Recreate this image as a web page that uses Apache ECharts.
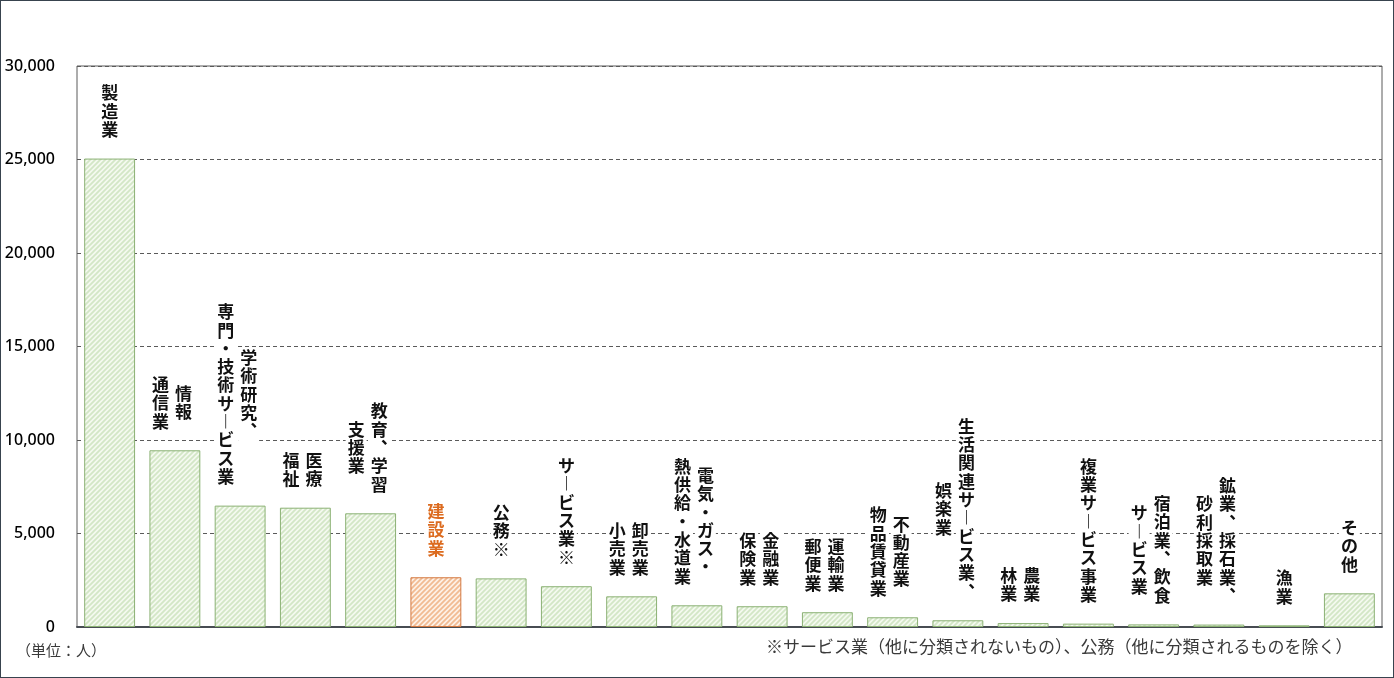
<!DOCTYPE html>
<html>
<head>
<meta charset="utf-8">
<script src="https://cdn.jsdelivr.net/npm/echarts@6/dist/echarts.min.js"></script>
<style>
  html, body { margin: 0; padding: 0; background: #fff; }
  #wrap { position: relative; width: 1394px; height: 678px; }
  #chart { position: absolute; left: 0; top: 0; width: 1394px; height: 678px; }
  #frame { position: absolute; left: 0; top: 0; width: 1394px; height: 678px; box-sizing: border-box; border: 1px solid #38434e; pointer-events: none; }
</style>
</head>
<body>
<div id="wrap"><div id="chart"></div><div id="frame"></div></div>
<script>
// ---- data ----
const categories = [
  '製造業', '情報通信業', '学術研究、専門・技術サービス業', '医療、福祉', '教育、学習支援業',
  '建設業', '公務※', 'サービス業※', '卸売業、小売業', '電気・ガス・熱供給・水道業',
  '金融業、保険業', '運輸業、郵便業', '不動産業、物品賃貸業', '生活関連サービス業、娯楽業', '農業、林業',
  '複業サービス事業', '宿泊業、飲食サービス業', '鉱業、採石業、砂利採取業', '漁業', 'その他'
];
// label columns, read right-to-left (vertical writing)
const labelColumns = [
  ['製造業'], ['情報', '通信業'], ['学術研究、', '専門・技術サービス業'], ['医療', '福祉'], ['教育、学習', '支援業'],
  ['建設業'], ['公務※'], ['サービス業※'], ['卸売業', '小売業'], ['電気・ガス・', '熱供給・水道業'],
  ['金融業', '保険業'], ['運輸業', '郵便業'], ['不動産業', '物品賃貸業'], ['生活関連サービス業、', '娯楽業'], ['農業', '林業'],
  ['複業サービス事業'], ['宿泊業、飲食', 'サービス業'], ['鉱業、採石業、', '砂利採取業'], ['漁業'], ['その他']
];
const values = [
  25050, 9450, 6490, 6380, 6080,
  2660, 2600, 2180, 1640, 1160,
  1110, 790, 520, 360, 210,
  180, 140, 130, 90, 1800
];
const highlightCategory = '建設業';
const yTicks = { min: 0, max: 30000, interval: 5000 };
const unitNote = '（単位：人）';
const footNote = '※サービス業（他に分類されないもの）、公務（他に分類されるものを除く）';

// ---- styles ----
function hatch(bg, stripe) {
  const s = 5;
  const c = document.createElement('canvas');
  c.width = s; c.height = s;
  const g = c.getContext('2d');
  g.fillStyle = bg; g.fillRect(0, 0, s, s);
  g.strokeStyle = stripe; g.lineWidth = 1.8;
  g.beginPath();
  g.moveTo(-1, 1); g.lineTo(1, -1);
  g.moveTo(0, s); g.lineTo(s, 0);
  g.moveTo(s - 1, s + 1); g.lineTo(s + 1, s - 1);
  g.stroke();
  return { image: c, repeat: 'repeat' };
}
const greenFill = hatch('#f4f9f0', '#d3e6c6');
const orangeFill = hatch('#fdf1e7', '#f1bb93');
const JP = '"Noto Sans CJK JP", "Noto Sans", sans-serif';
const vertMap = { 'ー': '︱', '、': '︑' };
function vertical(s) { return Array.from(s).map(ch => vertMap[ch] || ch).join('\n'); }

const LABEL_FS = 17, LABEL_LH = 18.3, GAP = 20, PITCH = 23;

const chart = echarts.init(document.getElementById('chart'), null, { renderer: 'canvas' });
chart.setOption({
  animation: false,
  backgroundColor: '#ffffff',
  grid: { left: 77, right: 12, top: 66, bottom: 51, show: true, borderColor: '#5a5a5a', borderWidth: 1 },
  xAxis: {
    type: 'category', data: categories,
    axisLabel: { show: false }, axisTick: { show: false },
    axisLine: { show: true, lineStyle: { color: '#474c52', width: 2 } }
  },
  yAxis: {
    type: 'value', min: yTicks.min, max: yTicks.max, interval: yTicks.interval,
    axisLine: { show: false }, axisTick: { show: false },
    axisLabel: {
      margin: 22, fontSize: 16, color: '#000', fontFamily: '"Noto Sans", sans-serif', fontWeight: 500,
      formatter: v => v.toLocaleString('en-US')
    },
    splitLine: { show: true, lineStyle: { color: '#5a5a5a', type: [4, 3], width: 1 } }
  },
  series: [
    {
      type: 'bar', barCategoryGap: '22%',
      data: values.map((v, i) => ({
        value: v,
        itemStyle: categories[i] === highlightCategory
          ? { color: orangeFill, borderColor: '#d47a42', borderWidth: 1 }
          : { color: greenFill, borderColor: '#8bb174', borderWidth: 1 }
      })),
      z: 2
    },
    {
      type: 'custom', coordinateSystem: 'cartesian2d', z: 5,
      encode: { x: 0, y: 1 },
      data: values.map((v, i) => [i, v]),
      renderItem: function (params, api) {
        const i = params.dataIndex;
        const pt = api.coord([api.value(0), api.value(1)]);
        const cols = labelColumns[i];
        const k = cols.length;
        const n = Math.max.apply(null, cols.map(c => Array.from(c).length));
        const cy = pt[1] - GAP - (n * LABEL_LH) / 2;
        const cx = pt[0] + (k > 1 ? -3 : 0);
        const color = categories[i] === highlightCategory ? '#dc6b1f' : '#111';
        return {
          type: 'group',
          children: cols.map((c, j) => ({
            type: 'text',
            style: {
              text: vertical(c),
              x: cx + ((k - 1) / 2 - j) * PITCH,
              y: cy,
              align: 'center', verticalAlign: 'middle',
              fontSize: LABEL_FS, lineHeight: LABEL_LH, fontFamily: JP, fontWeight: 'bold',
              fill: color, backgroundColor: '#ffffff', padding: [1, 2]
            }
          }))
        };
      }
    }
  ],
  graphic: [
    { type: 'text', left: 16, top: 643, style: { text: unitNote, fontSize: 15, fontFamily: JP, fill: '#3a3a3a' } },
    { type: 'text', left: 766, top: 638, style: { text: footNote, fontSize: 17, fontFamily: JP, fill: '#3a3a3a' } }
  ]
});
</script>
</body>
</html>
